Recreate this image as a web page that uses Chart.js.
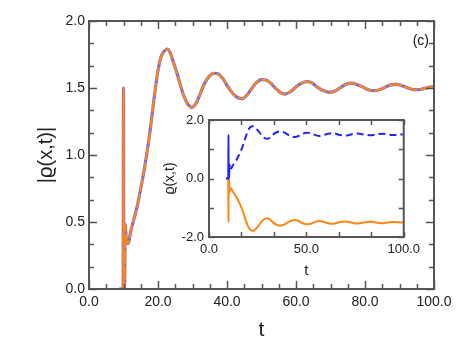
<!DOCTYPE html>
<html>
<head>
<meta charset="utf-8">
<script src="https://cdn.jsdelivr.net/npm/chart.js@4.4.1/dist/chart.umd.min.js"></script>
<style>
  html, body { margin: 0; padding: 0; background: #fff; }
  #wrap { position: relative; width: 471px; height: 353px; }
  #main { position: absolute; left: 0; top: 0; }
  #inset { position: absolute; left: 155px; top: 105px; }
</style>
</head>
<body>
<div id="wrap">
  <canvas id="main" width="471" height="353"></canvas>
  <canvas id="inset" width="270" height="180"></canvas>
</div>
<script>
// ---- data ----
const times = [8.7, 9.9, 10.0, 10.1, 10.3, 10.5, 10.8, 11.4, 12.0, 13.0, 14.0, 15.0, 16.0, 17.0, 18.0, 19.0, 20.0, 21.0, 22.0, 22.7, 23.5, 24.5, 25.5, 26.5, 27.5, 28.5, 29.8, 31.0, 32.2, 33.5, 35.0, 36.2, 37.5, 38.8, 40.0, 41.5, 43.0, 44.3, 45.7, 47.0, 48.5, 50.0, 51.3, 52.7, 54.0, 55.5, 56.8, 58.2, 59.7, 61.2, 63.0, 64.5, 66.0, 67.5, 69.7, 71.5, 73.0, 74.5, 76.1, 77.8, 79.5, 81.0, 82.6, 84.2, 86.0, 87.5, 89.0, 90.8, 92.5, 94.0, 95.5, 97.0, 98.5, 100.0];
const absRho = [0, 0, 1.5, 0, 0, 0.48, 0.37, 0.34, 0.42, 0.52, 0.62, 0.75, 0.89, 1.05, 1.24, 1.45, 1.63, 1.74, 1.78, 1.79, 1.765, 1.69, 1.61, 1.52, 1.44, 1.385, 1.355, 1.385, 1.455, 1.535, 1.59, 1.61, 1.605, 1.57, 1.52, 1.465, 1.43, 1.42, 1.445, 1.49, 1.54, 1.563, 1.56, 1.535, 1.5, 1.465, 1.455, 1.47, 1.5, 1.53, 1.548, 1.54, 1.51, 1.485, 1.468, 1.48, 1.505, 1.528, 1.536, 1.525, 1.505, 1.487, 1.48, 1.487, 1.508, 1.523, 1.527, 1.517, 1.5, 1.488, 1.487, 1.495, 1.505, 1.51];

const mainXTicks = [0, 20, 40, 60, 80, 100];
const mainYTicks = [0, 0.5, 1.0, 1.5, 2.0];
const insetXTicks = [0, 50, 100];
const insetYTicks = [-2, 0, 2];
const mainXMinor = 5, mainYMinor = 0.5 / 3;
const insetXMinor = 50 / 3, insetYMinor = 1;

const BLUE = '#2222ff';
const LAVENDER = '#6a6af0';
const ORANGE = '#ff8514';
const FRAME = '#555555';
const FONT = "'Liberation Sans', Arial, Helvetica, sans-serif";

const posPts = times.map((t, i) => ({ x: t, y: absRho[i] }));
const negPts = times.map((t, i) => ({ x: t, y: -absRho[i] }));

function frameTicksPlugin(xMajor, yMajor, xMinorStep, yMinorStep, majLen, minLen) {
  return {
    id: 'frameTicks',
    afterDraw(chart) {
      const { ctx, chartArea: a, scales } = chart;
      const xs = scales.x, ys = scales.y;
      ctx.save();
      ctx.strokeStyle = FRAME;
      ctx.lineWidth = 1.5;
      ctx.beginPath();
      const xMin = xs.min, xMax = xs.max, yMin = ys.min, yMax = ys.max;
      for (let k = 0; xMin + k * xMinorStep <= xMax + 1e-9; k++) {
        const v = xMin + k * xMinorStep;
        const isMaj = xMajor.some(m => Math.abs(m - v) < 1e-6);
        const L = isMaj ? majLen : minLen;
        const px = Math.round(xs.getPixelForValue(v)) + 0.5;
        ctx.moveTo(px, a.bottom); ctx.lineTo(px, a.bottom - L);
        ctx.moveTo(px, a.top); ctx.lineTo(px, a.top + L);
      }
      for (let k = 0; yMin + k * yMinorStep <= yMax + 1e-9; k++) {
        const v = yMin + k * yMinorStep;
        const isMaj = yMajor.some(m => Math.abs(m - v) < 1e-6);
        const L = isMaj ? majLen : minLen;
        const py = Math.round(ys.getPixelForValue(v)) + 0.5;
        ctx.moveTo(a.left, py); ctx.lineTo(a.left + L, py);
        ctx.moveTo(a.right, py); ctx.lineTo(a.right - L, py);
      }
      ctx.stroke();
      ctx.lineWidth = 2;
      ctx.strokeRect(a.left, a.top, a.right - a.left, a.bottom - a.top);
      ctx.restore();
    }
  };
}

const labelPlugin = {
  id: 'panelLabel',
  afterDraw(chart) {
    const ctx = chart.ctx;
    ctx.save();
    ctx.fillStyle = '#111';
    ctx.font = '14px ' + FONT;
    ctx.textAlign = 'right';
    ctx.textBaseline = 'middle';
    ctx.fillText('(c)', 429, 41);
    ctx.restore();
  }
};

new Chart(document.getElementById('main'), {
  type: 'line',
  data: {
    datasets: [
      { data: posPts, borderColor: ORANGE, borderWidth: 2.2, borderDash: [14, 2], pointRadius: 0, cubicInterpolationMode: 'monotone', fill: false },
      { data: posPts, borderColor: LAVENDER, borderWidth: 3.2, pointRadius: 0, cubicInterpolationMode: 'monotone', fill: false }
    ]
  },
  options: {
    responsive: false,
    animation: false,
    events: [],
    layout: { padding: { left: 0, top: 21, right: 37, bottom: 0 } },
    plugins: { legend: { display: false }, tooltip: { enabled: false } },
    scales: {
      x: {
        type: 'linear', min: 0, max: 100,
        grid: { display: false, drawTicks: false },
        border: { display: false },
        afterBuildTicks: s => { s.ticks = mainXTicks.map(v => ({ value: v })); },
        ticks: { padding: 5, color: '#222', font: { family: FONT, size: 14 }, callback: v => Number(v).toFixed(1), maxRotation: 0, autoSkip: false },
        title: { display: true, text: 't', color: '#222', font: { family: FONT, size: 21 }, padding: { top: 10, bottom: 10 } },
        afterFit: s => { s.height = 64; }
      },
      y: {
        type: 'linear', min: 0, max: 2,
        grid: { display: false, drawTicks: false },
        border: { display: false },
        afterBuildTicks: s => { s.ticks = mainYTicks.map(v => ({ value: v })); },
        ticks: { padding: 4, color: '#222', font: { family: FONT, size: 14 }, callback: v => Number(v).toFixed(1), autoSkip: false },
        title: { display: true, text: '|ϱ(x,t)|', color: '#222', font: { family: FONT, size: 20 }, padding: { top: 34, bottom: 34 } },
        afterFit: s => { s.width = 89; }
      }
    }
  },
  plugins: [frameTicksPlugin(mainXTicks, mainYTicks, mainXMinor, mainYMinor, 8, 5), labelPlugin]
});

new Chart(document.getElementById('inset'), {
  type: 'line',
  data: {
    datasets: [
      { data: posPts, borderColor: BLUE, borderWidth: 2, pointRadius: 0, cubicInterpolationMode: 'monotone', fill: false,
        segment: { borderDash: c => (c.p0.parsed.x < 10.7 ? [] : [7, 4]) } },
      { data: negPts, borderColor: ORANGE, borderWidth: 2, pointRadius: 0, cubicInterpolationMode: 'monotone', fill: false }
    ]
  },
  options: {
    responsive: false,
    animation: false,
    events: [],
    layout: { padding: { left: 0, top: 15, right: 13, bottom: 0 } },
    plugins: { legend: { display: false }, tooltip: { enabled: false } },
    scales: {
      x: {
        type: 'linear', min: 0, max: 100,
        grid: { display: false, drawTicks: false },
        border: { display: false },
        afterBuildTicks: s => { s.ticks = insetXTicks.map(v => ({ value: v })); },
        ticks: { padding: 5, color: '#222', font: { family: FONT, size: 13 }, callback: v => Number(v).toFixed(1), maxRotation: 0, autoSkip: false },
        title: { display: true, text: 't', color: '#222', font: { family: FONT, size: 15 }, padding: { top: 6, bottom: 5 } },
        afterFit: s => { s.height = 48; }
      },
      y: {
        type: 'linear', min: -2, max: 2,
        grid: { display: false, drawTicks: false },
        border: { display: false },
        afterBuildTicks: s => { s.ticks = insetYTicks.map(v => ({ value: v })); },
        ticks: { padding: 5, color: '#222', font: { family: FONT, size: 13 }, callback: v => Number(v).toFixed(1), autoSkip: false },
        title: { display: true, text: 'ϱ(x,t)', color: '#222', font: { family: FONT, size: 14 }, padding: { top: 7, bottom: 7 } },
        afterFit: s => { s.width = 54; }
      }
    }
  },
  plugins: [frameTicksPlugin(insetXTicks, insetYTicks, insetXMinor, insetYMinor, 5, 5)]
});
</script>
</body>
</html>
